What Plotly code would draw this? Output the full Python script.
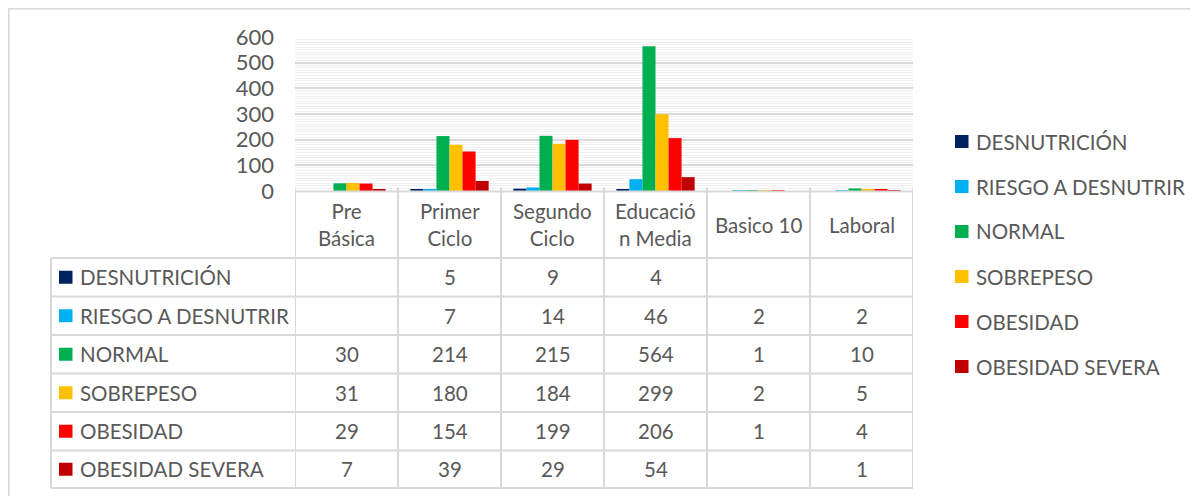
import plotly.graph_objects as go

# page body has an 8px margin: figure is placed at (8, 8) in the window
OFF = 8
W, H = 1198 - OFF, 496 - OFF

categories = ["Pre Básica", "Primer Ciclo", "Segundo Ciclo", "Educación Media", "Basico 10", "Laboral"]
header_labels = ["Pre<br>Básica", "Primer<br>Ciclo", "Segundo<br>Ciclo", "Educació<br>n Media", "Basico 10", "Laboral"]

series_names = ["DESNUTRICIÓN", "RIESGO A DESNUTRIR", "NORMAL", "SOBREPESO", "OBESIDAD", "OBESIDAD SEVERA"]
desnutricion = [None, 5, 9, 4, None, None]
riesgo = [None, 7, 14, 46, 2, 2]
normal = [30, 214, 215, 564, 1, 10]
sobrepeso = [31, 180, 184, 299, 2, 5]
obesidad = [29, 154, 199, 206, 1, 4]
obesidad_severa = [7, 39, 29, 54, None, 1]
series_values = [desnutricion, riesgo, normal, sobrepeso, obesidad, obesidad_severa]
colors = ["#002060", "#00B0F0", "#00B050", "#FFC000", "#FF0000", "#C00000"]

y_ticks = [0, 100, 200, 300, 400, 500, 600]

FONT = "Lato"
TXT = "#595959"
LINE = "#d9d9d9"
FS = 20.5


def px(x):
    return (x - OFF) / W


def py(y):
    return 1 - (y - OFF) / H


fig = go.Figure()
for name, vals, col in zip(series_names, series_values, colors):
    fig.add_trace(go.Bar(
        x=list(range(len(categories))), y=vals, name=name,
        marker=dict(color=col, line=dict(width=0)),
        showlegend=False,
    ))

shapes = []
annotations = []

# outer chart border (top and left edges visible)
shapes.append(dict(type="rect", xref="paper", yref="paper",
                   x0=px(8.8), x1=px(1215), y0=py(8.8), y1=py(515),
                   line=dict(color=LINE, width=1.5), fillcolor="rgba(0,0,0,0)", layer="below"))

# table geometry
header_top, header_bot = 191.5, 258
row_bounds = [258, 296.5, 335, 373.5, 412, 450.5, 488]
label_left = 51
n = len(categories)

shapes.append(dict(type="line", xref="x", yref="paper", x0=-0.5, x1=n - 0.5,
                   y0=py(header_top), y1=py(header_top), line=dict(color=LINE, width=2)))
for yb in row_bounds:
    shapes.append(dict(type="line", xref="paper", yref="paper", x0=px(label_left), x1=px(913),
                       y0=py(yb), y1=py(yb), line=dict(color=LINE, width=2)))
for i in range(n + 1):
    shapes.append(dict(type="line", xref="x", yref="paper", x0=i - 0.5, x1=i - 0.5,
                       y0=py(header_top - 4), y1=py(row_bounds[-1]), line=dict(color=LINE, width=2)))
shapes.append(dict(type="line", xref="paper", yref="paper", x0=px(label_left), x1=px(label_left),
                   y0=py(row_bounds[0]), y1=py(row_bounds[-1]), line=dict(color=LINE, width=2)))

for i, lab in enumerate(header_labels):
    annotations.append(dict(x=i, xref="x", y=py((header_top + header_bot) / 2), yref="paper",
                            text=lab, showarrow=False, xanchor="center", yanchor="middle",
                            font=dict(family=FONT, size=FS, color=TXT)))

for r, (name, vals, col) in enumerate(zip(series_names, series_values, colors)):
    yc = (row_bounds[r] + row_bounds[r + 1]) / 2
    shapes.append(dict(type="rect", xref="paper", yref="paper",
                       x0=px(59), x1=px(72.5), y0=py(yc - 6.5), y1=py(yc + 6.5),
                       line=dict(width=0), fillcolor=col))
    annotations.append(dict(x=px(78), xref="paper", y=py(yc), yref="paper", text=name,
                            showarrow=False, xanchor="left", yanchor="middle",
                            font=dict(family=FONT, size=FS, color=TXT)))
    for i, v in enumerate(vals):
        if v is None:
            continue
        annotations.append(dict(x=i, xref="x", y=py(yc), yref="paper", text=str(v),
                                showarrow=False, xanchor="center", yanchor="middle",
                                font=dict(family=FONT, size=FS, color=TXT)))

for r, (name, col) in enumerate(zip(series_names, colors)):
    yc = 141.5 + 45 * r
    shapes.append(dict(type="rect", xref="paper", yref="paper",
                       x0=px(955), x1=px(968.5), y0=py(yc - 6.5), y1=py(yc + 6.5),
                       line=dict(width=0), fillcolor=col))
    annotations.append(dict(x=px(974), xref="paper", y=py(yc), yref="paper", text=name,
                            showarrow=False, xanchor="left", yanchor="middle",
                            font=dict(family=FONT, size=FS, color=TXT)))

fig.update_layout(
    width=W, height=H,
    margin=dict(l=0, r=0, t=0, b=0, pad=0, autoexpand=False),
    paper_bgcolor="white", plot_bgcolor="white",
    barmode="group", bargap=0.24, bargroupgap=0,
    showlegend=False,
    shapes=shapes, annotations=annotations,
    xaxis=dict(domain=[px(295), px(913)], range=[-0.5, n - 0.5],
               showticklabels=False, showgrid=False, zeroline=False,
               showline=False, ticks="", automargin=False),
    yaxis=dict(domain=[py(191), py(37)], range=[0, 600],
               tickvals=y_ticks, ticktext=[str(t) for t in y_ticks],
               showgrid=True, gridcolor=LINE, gridwidth=1.5,
               minor=dict(dtick=10, showgrid=True, gridcolor="#f0f0f0", gridwidth=1),
               zeroline=False, showline=False, ticks="",
               ticklabelstandoff=20, automargin=False,
               tickfont=dict(family=FONT, size=22, color=TXT)),
    font=dict(family=FONT, color=TXT),
)

fig.write_html("out.html")
